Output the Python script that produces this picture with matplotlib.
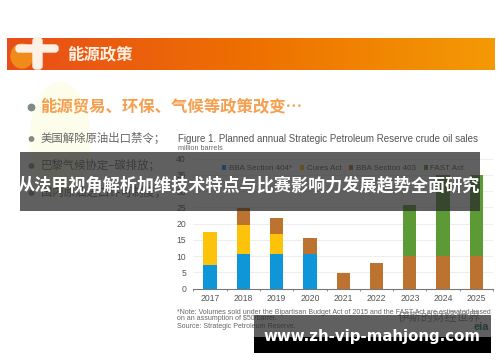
import numpy as np
import matplotlib
matplotlib.use("Agg")
import matplotlib.pyplot as plt
from matplotlib.patches import Rectangle, FancyBboxPatch, Ellipse, Circle

plt.rcParams["font.family"] = ["Noto Sans CJK SC", "DejaVu Sans"]

years = ["2017", "2018", "2019", "2020", "2021", "2022", "2023", "2024", "2025"]
bba_404 = np.array([7.3, 10.7, 10.7, 10.7, 0, 0, 0, 0, 0])
cures = np.array([10, 9, 6, 0, 0, 0, 0, 0, 0])
bba_403 = np.array([0, 5, 5, 5, 4.9, 7.9, 9.9, 9.9, 9.9])
fast = np.array([0, 0, 0, 0, 0, 0, 15.9, 25, 25])
y_ticks = [0, 5, 10, 15, 20, 25, 30, 35, 40]

series_names = ["BBA Section 404*", "Cures Act", "BBA Section 403", "FAST Act"]
series_colors = ["#0f96d8", "#fdc30a", "#bd7330", "#5c9a35"]

slide_title = "能源政策"
heading = "能源贸易、环保、气候等政策改变…"
bullets = ["美国解除原油出口禁令；", "巴黎气候协定–碳排放；", "国内原油进口许可制度；"]
fig_title = "Figure 1. Planned annual Strategic Petroleum Reserve crude oil sales"
fig_unit = "million barrels"
notes = ["*Note: Volumes sold under the Bipartisan Budget Act of 2015 and the FAST Act are estimated based",
         "on an assumption of $50/barrel.",
         "Source: Strategic Petroleum Reserve."]
watermark = "伊斯的财经世界"
logo = "eia"
banner = "从法甲视角解析加维技术特点与比赛影响力发展趋势全面研究"
site = "www.zh-vip-mahjong.com"

latin = ["Liberation Sans", "DejaVu Sans"]

W, H = 500, 362
fig = plt.figure(figsize=(W / 100, H / 100), dpi=100)

# slide layer, pixel coordinates
bg = fig.add_axes([0, 0, 1, 1], zorder=0)
grad = np.linspace(0, 1, 256).reshape(1, -1)
cmap = matplotlib.colors.LinearSegmentedColormap.from_list("hdr", ["#e84e1a", "#ee7000", "#f49a05"])
bg.imshow(grad, extent=[7, 495, 70, 38], cmap=cmap, aspect="auto")
bg.set_xlim(0, W)
bg.set_ylim(H, 0)
bg.axis("off")
bg.add_patch(Ellipse((22, 56), 22, 24, color="#f08a1a", zorder=2))
bg.add_patch(FancyBboxPatch((16, 45), 42, 7, boxstyle="round,pad=0,rounding_size=3", color="#fdf1e6", zorder=3))
bg.add_patch(FancyBboxPatch((33, 38), 9, 31, boxstyle="round,pad=0,rounding_size=3", color="#fdf1e6", zorder=3))
bg.text(67, 54, slide_title, color="#fdeee0", fontsize=11.8, fontweight="bold", va="center", zorder=3)

bg.add_patch(Ellipse((60, 140), 60, 115, color="#fdfdec", zorder=1))
bg.add_patch(Circle((31.5, 107.5), 3.2, color="#808a85", zorder=3))
bg.text(40, 106, heading, color="#f5a050", fontsize=11.8, fontweight="bold", va="center", zorder=3)
for y, txt in zip([139, 166, 193], bullets):
    bg.add_patch(Circle((31.5, y), 2.2, color="#808a85", zorder=3))
    bg.text(41, y - 1, txt, color="#666666", fontsize=8.2, va="center", zorder=3)

bg.text(178, 139, fig_title, color="#555555", fontsize=7.05, va="center", zorder=3, family=latin)
bg.text(178, 148, fig_unit, color="#666666", fontsize=5.2, va="center", zorder=3, family=latin)
for y, txt in zip([312, 319, 327], notes):
    bg.text(177, y, txt, color="#666666", fontsize=5.05, va="center", zorder=3, family=latin)
bg.text(398, 317, watermark, color="#8a8a8a", fontsize=8.6, va="center", zorder=3)
bg.text(474, 327, logo, color="#27606e", fontsize=8, fontweight="bold", va="center", zorder=3, family=latin)

# chart
ax = fig.add_axes([193 / W, 1 - 288.7 / H, 300 / W, 130.2 / H], zorder=1)
ax.patch.set_alpha(0)
x = np.arange(len(years))
bottom = np.zeros(len(years))
for name, vals, col in zip(series_names, [bba_404, cures, bba_403, fast], series_colors):
    ax.bar(x, vals, 0.4, bottom=bottom, color=col, label=name, zorder=3)
    bottom = bottom + vals
ax.set_xlim(-0.51, 8.49)
ax.set_ylim(0, 40)
ax.set_xticks(x)
ax.set_xticklabels(years, family=latin)
ax.set_yticks(y_ticks)
ax.set_yticklabels([str(v) for v in y_ticks], family=latin)
ax.set_xticks(np.arange(-0.5, 8.6, 1), minor=True)
ax.tick_params(axis="x", which="minor", length=1.5, color="#777777")
ax.tick_params(axis="x", which="major", labelsize=6.2, colors="#555555", length=0, pad=4)
ax.tick_params(axis="y", labelsize=6.2, colors="#555555", length=0, pad=5)
ax.grid(axis="y", color="#eeeeee", lw=0.7, zorder=0)
for s in ["top", "right", "left"]:
    ax.spines[s].set_visible(False)
ax.spines["bottom"].set_color("#777777")
ax.legend(loc="upper center", bbox_to_anchor=(0.5, 1.005), ncol=4, frameon=False,
          prop={"family": latin, "size": 5.8},
          handlelength=0.5, handleheight=0.5, handletextpad=0.3, columnspacing=1.0, labelcolor="#555555")

# overlays
top = fig.add_axes([0, 0, 1, 1], zorder=2)
top.set_xlim(0, W)
top.set_ylim(H, 0)
top.axis("off")
top.add_patch(Rectangle((20, 152), 460, 59, color="#2b2b2b", alpha=0.75, lw=0))
top.text(249, 185.5, banner, color="white", fontsize=12.3, fontweight="bold", ha="center", va="center")
top.add_patch(Rectangle((254, 315), 237, 22, color="#2b2b2b", alpha=0.75, lw=0))
top.add_patch(Rectangle((254, 337), 237, 16, color="black", lw=0))
top.text(372, 337, site, color="white", fontsize=10.8, fontweight="bold", ha="center", va="center",
         family="DejaVu Sans")

fig.savefig("out.png", dpi=100)
